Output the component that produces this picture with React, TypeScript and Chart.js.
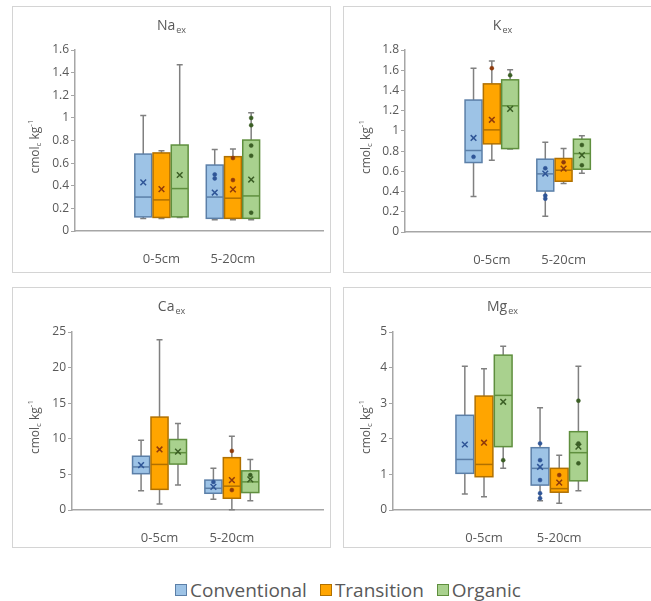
import React, { useEffect, useRef } from 'react';
import { Chart, registerables } from 'chart.js';
Chart.register(...registerables);

const categories = ['0-5cm', '5-20cm'];
const seriesNames = ['Conventional', 'Transition', 'Organic'];

// rows: series (Conventional, Transition, Organic); columns: categories
const naMin = [[0.11, 0.1], [0.11, 0.1], [0.12, 0.1]];
const naQ1 = [[0.125, 0.112], [0.12, 0.112], [0.125, 0.112]];
const naMedian = [[0.3, 0.3], [0.275, 0.29], [0.375, 0.31]];
const naQ3 = [[0.68, 0.583], [0.69, 0.657], [0.76, 0.804]];
const naMax = [[1.02, 0.72], [0.71, 0.725], [1.47, 1.045]];
const naMean = [[0.43, 0.34], [0.37, 0.368], [0.495, 0.455]];
const naPoints = [[[], [0.5, 0.465]], [[], [0.45, 0.645]], [[], [1.0, 0.935, 0.755, 0.665, 0.162]]];

const kMin = [[0.35, 0.155], [0.71, 0.48], [0.82, 0.58]];
const kQ1 = [[0.687, 0.405], [0.872, 0.502], [0.825, 0.621]];
const kMedian = [[0.806, 0.575], [1.01, 0.611], [1.248, 0.776]];
const kQ3 = [[1.305, 0.72], [1.465, 0.727], [1.505, 0.918]];
const kMax = [[1.62, 0.888], [1.69, 0.826], [1.605, 0.951]];
const kMean = [[0.93, 0.578], [1.11, 0.627], [1.218, 0.76]];
const kPoints = [[[0.743], [0.63, 0.36, 0.33]], [[1.62], [0.69]], [[1.55], [0.86, 0.66]]];

const caMin = [[2.7, 1.5], [0.84, 0.05], [3.5, 1.3]];
const caQ1 = [[5.1, 2.35], [2.9, 1.65], [6.45, 2.45]];
const caMedian = [[6.05, 3.05], [6.4, 3.35], [8.05, 3.95]];
const caQ3 = [[7.55, 4.2], [13.05, 7.35], [9.9, 5.5]];
const caMax = [[9.8, 5.85], [23.9, 10.35], [12.15, 7.1]];
const caMean = [[6.3, 3.25], [8.5, 4.2], [8.2, 4.3]];
const caPoints = [[[], [3.95]], [[], [8.3, 2.8]], [[], [4.9]]];

const mgMin = [[0.45, 0.26], [0.37, 0.19], [1.17, 0.54]];
const mgQ1 = [[1.03, 0.7], [0.935, 0.5], [1.78, 0.82]];
const mgMedian = [[1.42, 1.17], [1.28, 0.6], [3.22, 1.61]];
const mgQ3 = [[2.66, 1.75], [3.2, 1.17], [4.35, 2.2]];
const mgMax = [[4.04, 2.87], [3.97, 1.54], [4.6, 4.04]];
const mgMean = [[1.84, 1.21], [1.89, 0.77], [3.04, 1.78]];
const mgPoints = [[[], [1.87, 1.4, 0.84, 0.47, 0.33]], [[], [0.98]], [[1.4], [3.07, 1.31, 1.87]]];

const FONT = "'Open Sans', 'Noto Sans', sans-serif";
const TEXT = '#595959';
const AXIS = '#a6a6a6';
const WHISKER = '#808080';
const FILLS = ['#9dc3e6', '#ffa500', '#a9d18e'];
const LINES = ['#5b7fa8', '#b07000', '#5f8f3e'];
const MARKS = ['#2f5597', '#8f3a0b', '#3b5e25'];

const X_MIN = -0.21;
const X_MAX = 3.26;
const STEP = 0.255;
const HALF = 0.118;

type Panel = {
  title: string; sub: string;
  min: number[][]; q1: number[][]; median: number[][]; q3: number[][]; max: number[][]; mean: number[][];
  points: number[][][];
  yMax: number; yStep: number;
  left: number; top: number; width: number; height: number;
  axisW: number; padTop: number; xAxisH: number;
};

const panels: Panel[] = [
  { title: 'Na', sub: 'ex', min: naMin, q1: naQ1, median: naMedian, q3: naQ3, max: naMax, mean: naMean, points: naPoints, yMax: 1.6, yStep: 0.2, left: 12, top: 6, width: 319, height: 267, axisW: 62, padTop: 43, xAxisH: 41 },
  { title: 'K', sub: 'ex', min: kMin, q1: kQ1, median: kMedian, q3: kQ3, max: kMax, mean: kMean, points: kPoints, yMax: 1.8, yStep: 0.2, left: 343, top: 6, width: 319, height: 267, axisW: 61, padTop: 43, xAxisH: 40 },
  { title: 'Ca', sub: 'ex', min: caMin, q1: caQ1, median: caMedian, q3: caQ3, max: caMax, mean: caMean, points: caPoints, yMax: 25, yStep: 5, left: 12, top: 287, width: 319, height: 261, axisW: 59, padTop: 44, xAxisH: 37 },
  { title: 'Mg', sub: 'ex', min: mgMin, q1: mgQ1, median: mgMedian, q3: mgQ3, max: mgMax, mean: mgMean, points: mgPoints, yMax: 5, yStep: 1, left: 343, top: 287, width: 319, height: 261, axisW: 49, padTop: 44, xAxisH: 37 },
];

function makeBoxPlugin(p: Panel) {
  return {
    id: 'boxDraw',
    beforeDatasetsDraw(chart: any) {
      const { ctx } = chart;
      const x = chart.scales.x;
      const y = chart.scales.y;
      const py = (v: number) => y.getPixelForValue(v);
      for (let s = 0; s < 3; s++) {
        for (let c = 0; c < categories.length; c++) {
          const center = c + 1 + (s - 1) * STEP;
          const xc = x.getPixelForValue(center);
          const xl = x.getPixelForValue(center - HALF);
          const xr = x.getPixelForValue(center + HALF);
          const yMin = py(p.min[s][c]);
          const yQ1 = py(p.q1[s][c]);
          const yMed = py(p.median[s][c]);
          const yQ3 = py(p.q3[s][c]);
          const yMax = py(p.max[s][c]);
          ctx.save();
          ctx.strokeStyle = WHISKER;
          ctx.lineWidth = 1.5;
          ctx.beginPath();
          ctx.moveTo(xc, yMax); ctx.lineTo(xc, yQ3);
          ctx.moveTo(xc, yQ1); ctx.lineTo(xc, yMin);
          ctx.moveTo(xc - 3, yMax); ctx.lineTo(xc + 3, yMax);
          ctx.moveTo(xc - 3, yMin); ctx.lineTo(xc + 3, yMin);
          ctx.stroke();
          ctx.fillStyle = FILLS[s];
          ctx.fillRect(xl, yQ3, xr - xl, yQ1 - yQ3);
          ctx.strokeStyle = LINES[s];
          ctx.lineWidth = 1.5;
          ctx.strokeRect(xl, yQ3, xr - xl, yQ1 - yQ3);
          ctx.beginPath();
          ctx.moveTo(xl, yMed); ctx.lineTo(xr, yMed);
          ctx.stroke();
          ctx.restore();
        }
      }
    },
    afterDraw(chart: any) {
      const { ctx, chartArea } = chart;
      ctx.save();
      ctx.fillStyle = TEXT;
      ctx.textBaseline = 'alphabetic';
      ctx.textAlign = 'left';
      ctx.font = `14px ${FONT}`;
      const wMain = ctx.measureText(p.title).width;
      ctx.font = `9px ${FONT}`;
      const wSub = ctx.measureText(p.sub).width;
      const tx = chart.width / 2 - (wMain + wSub + 1) / 2;
      ctx.font = `14px ${FONT}`;
      ctx.fillText(p.title, tx, 23);
      ctx.font = `9px ${FONT}`;
      ctx.fillText(p.sub, tx + wMain + 1, 26);
      const segs: [string, number, number][] = [['cmol', 12, 0], ['c', 8, 3], [' kg', 12, 0], ['-1', 8, -5]];
      let total = 0;
      for (const [t, f] of segs) { ctx.font = `${f}px ${FONT}`; total += ctx.measureText(t).width; }
      const cy = (chartArea.top + chartArea.bottom) / 2 + 6;
      ctx.translate(19, cy);
      ctx.rotate(-Math.PI / 2);
      ctx.textBaseline = 'middle';
      let cx = -total / 2;
      for (const [t, f, dy] of segs) {
        ctx.font = `${f}px ${FONT}`;
        ctx.fillText(t, cx, dy + 4);
        cx += ctx.measureText(t).width;
      }
      ctx.restore();
    },
  };
}

function PanelChart({ p }: { p: Panel }) {
  const ref = useRef<HTMLCanvasElement | null>(null);
  useEffect(() => {
    const datasets: any[] = [];
    for (let s = 0; s < 3; s++) {
      const pts: { x: number; y: number }[] = [];
      const means: { x: number; y: number }[] = [];
      for (let c = 0; c < categories.length; c++) {
        const xv = c + 1 + (s - 1) * STEP;
        p.points[s][c].forEach((v) => pts.push({ x: xv, y: v }));
        means.push({ x: xv, y: p.mean[s][c] });
      }
      datasets.push({
        label: seriesNames[s] + ' points', data: pts, pointStyle: 'circle', pointRadius: 2,
        backgroundColor: MARKS[s], borderColor: MARKS[s], borderWidth: 0.5,
      });
      datasets.push({
        label: seriesNames[s] + ' mean', data: means, pointStyle: 'crossRot', pointRadius: 4,
        backgroundColor: MARKS[s], borderColor: MARKS[s], borderWidth: 1.5,
      });
    }
    const chart = new Chart(ref.current as HTMLCanvasElement, {
      type: 'scatter',
      data: { datasets },
      options: {
        animation: false,
        responsive: false,
        devicePixelRatio: 1,
        layout: { padding: { top: p.padTop, right: 7, left: 0, bottom: 0 } },
        plugins: { legend: { display: false }, tooltip: { enabled: false }, title: { display: false } },
        scales: {
          x: {
            type: 'linear', min: X_MIN, max: X_MAX,
            afterBuildTicks: (scale: any) => { scale.ticks = categories.map((_, i) => ({ value: i + 1 })); },
            afterFit: (scale: any) => { scale.height = p.xAxisH; },
            grid: { display: false },
            border: { display: true, color: AXIS, width: 1.5 },
            ticks: {
              autoSkip: false, maxRotation: 0, padding: 12, color: TEXT,
              font: { family: FONT, size: 13 },
              callback: (v: any) => categories[Number(v) - 1] ?? '',
            },
          },
          y: {
            type: 'linear', min: 0, max: p.yMax,
            afterFit: (scale: any) => { scale.width = p.axisW; },
            grid: { display: true, drawOnChartArea: false, drawTicks: true, tickLength: 4, color: AXIS },
            border: { display: true, color: AXIS, width: 1.5 },
            ticks: {
              stepSize: p.yStep, padding: 2, color: TEXT, font: { family: FONT, size: 12 },
              callback: (v: any) => String(Number(Number(v).toFixed(2))),
            },
          },
        },
      },
      plugins: [makeBoxPlugin(p)],
    } as any);
    return () => chart.destroy();
  }, [p]);
  const w = p.width - 2;
  const h = p.height - 2;
  return (
    <div style={{ position: 'absolute', left: p.left, top: p.top, width: p.width, height: p.height, border: '1px solid #d4d4d4', boxSizing: 'border-box', background: '#fff' }}>
      <canvas ref={ref} width={w} height={h} style={{ display: 'block', width: w, height: h }} />
    </div>
  );
}

export default function App() {
  return (
    <div style={{ position: 'fixed', left: 0, top: 0, width: 651, height: 601, overflow: 'hidden', background: '#fff' }}>
      {panels.map((p) => <PanelChart key={p.title} p={p} />)}
      <div style={{ position: 'absolute', left: 175, top: 577, display: 'flex', alignItems: 'center', font: `19px ${FONT}`, color: TEXT, whiteSpace: 'nowrap' }}>
        {seriesNames.map((n, i) => (
          <div key={n} style={{ display: 'flex', alignItems: 'center', marginRight: 13 }}>
            <span style={{ display: 'inline-block', width: 10, height: 10, background: FILLS[i], border: `1px solid ${LINES[i]}`, marginRight: 3 }} />
            <span>{n}</span>
          </div>
        ))}
      </div>
    </div>
  );
}
